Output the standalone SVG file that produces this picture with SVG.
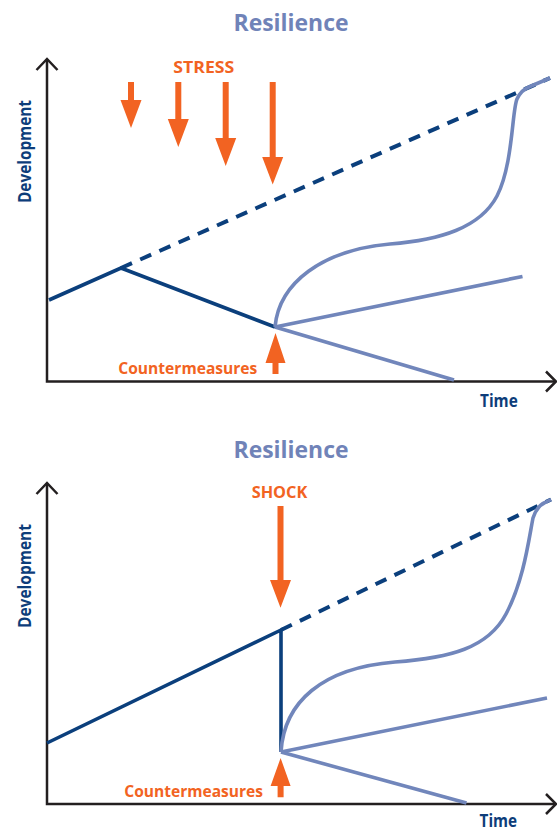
<svg xmlns="http://www.w3.org/2000/svg" width="557" height="832" viewBox="0 0 557 832">
<style>
.title{font-family:"Open Sans","Liberation Sans",sans-serif;font-weight:bold;font-size:23px;fill:#7083b8;text-anchor:middle}
.lbl{font-family:"Open Sans","Liberation Sans",sans-serif;font-weight:bold;font-size:16px;fill:#f26322}
.ax{font-family:"Open Sans","Liberation Sans",sans-serif;font-weight:bold;font-size:17px;fill:#0d3d7a}
.axis{fill:none;stroke:#231f20;stroke-width:2.5}
.chev{fill:none;stroke:#231f20;stroke-width:2.5;stroke-linejoin:miter}
.main{fill:none;stroke:#0b3f7c;stroke-width:3.6;stroke-linejoin:miter}
.dash{fill:none;stroke:#0b3f7c;stroke-width:4;stroke-dasharray:12 9}
.alt{fill:none;stroke:#7186bb;stroke-width:3.6;stroke-linejoin:round}
.arr{fill:#f26322}
</style>
<rect width="557" height="832" fill="#fff"/>

<g id="chart1">
  <text id="title1" class="title" x="291" y="31" textLength="115" lengthAdjust="spacingAndGlyphs">Resilience</text>
  <g id="axes1">
    <path class="axis" d="M47,59 V382.7 M45.8,381.5 H555"/>
    <polyline class="chev" points="36.5,70 47,59 57.5,70"/>
    <polyline class="chev" points="546,371.5 556,381.5 546,391.5"/>
    <text id="ylabel1" class="ax" transform="translate(31,151.5) rotate(-90)" text-anchor="middle" textLength="103" lengthAdjust="spacingAndGlyphs">Development</text>
    <text id="xlabel1" class="ax" x="480" y="406.7" textLength="37.7" lengthAdjust="spacingAndGlyphs">Time</text>
  </g>
  <g id="stress">
    <text id="stress-label" class="lbl" x="173.3" y="73.3" textLength="61" lengthAdjust="spacingAndGlyphs">STRESS</text>
    <polygon class="arr" points="128,82 134,82 134,100 141.5,100 131,128 120.5,100 128,100"/>
    <polygon class="arr" points="175.3,82 181.3,82 181.3,119 188.8,119 178.3,147 167.8,119 175.3,119"/>
    <polygon class="arr" points="222.7,82 228.7,82 228.7,138 236.2,138 225.7,166 215.2,138 222.7,138"/>
    <polygon class="arr" points="269.7,82 275.7,82 275.7,157 283.2,157 272.7,184.5 262.2,157 269.7,157"/>
  </g>
  <g id="connectors1">
    <path class="dash" d="M121,268 L550,78"/>
    <path class="main" d="M49,300 L121,268 L275,327"/>
    <path class="alt" d="M275,327 L522.5,276.5"/>
    <path class="alt" d="M275,327 L454,380"/>
    <path class="alt" d="M275,327 C279,283 322,250 390,244 C440,240 480,228 497,196 C513,165 512,110 517,99 Q521,90 530,86.5 L550,78"/>
  </g>
  <g id="counter1">
    <text id="counter-label1" class="lbl" x="118.3" y="374" textLength="139" lengthAdjust="spacingAndGlyphs">Countermeasures</text>
    <polygon class="arr" points="275.5,333 285.5,363 278.5,363 278.5,374 272.5,374 272.5,363 265.5,363"/>
  </g>
</g>

<g id="chart2">
  <text id="title2" class="title" x="291" y="458.3" textLength="115" lengthAdjust="spacingAndGlyphs">Resilience</text>
  <g id="axes2">
    <path class="axis" d="M47,483 V805.2 M45.8,804 H555"/>
    <polyline class="chev" points="36.5,494 47,483 57.5,494"/>
    <polyline class="chev" points="546,794 556,804 546,814"/>
    <text id="ylabel2" class="ax" transform="translate(31,576) rotate(-90)" text-anchor="middle" textLength="104" lengthAdjust="spacingAndGlyphs">Development</text>
    <text id="xlabel2" class="ax" x="479.6" y="827" font-size="16" textLength="37.5" lengthAdjust="spacingAndGlyphs">Time</text>
  </g>
  <g id="shock">
    <text id="shock-label" class="lbl" x="251.7" y="498.3" textLength="55.6" lengthAdjust="spacingAndGlyphs">SHOCK</text>
    <polygon class="arr" points="277.5,506 283.5,506 283.5,580 291,580 280.5,607.7 270,580 277.5,580"/>
  </g>
  <g id="connectors2">
    <path class="dash" d="M281,630 L551,499.5"/>
    <path class="main" d="M47,743 L281,630 L281,752"/>
    <path class="alt" d="M281,752 L547,698"/>
    <path class="alt" d="M281,752 L466.5,803"/>
    <path class="alt" d="M281,752 C284,702 322,668 395,662 C450,658 488,648 506,614 C524,580 529,538 533,518 Q537,506 545,502.5 L551,499.5"/>
  </g>
  <g id="counter2">
    <text id="counter-label2" class="lbl" x="124.3" y="797.3" textLength="138.6" lengthAdjust="spacingAndGlyphs">Countermeasures</text>
    <polygon class="arr" points="280.6,758 290.6,786 283.6,786 283.6,797.3 277.6,797.3 277.6,786 270.6,786"/>
  </g>
</g>
</svg>
